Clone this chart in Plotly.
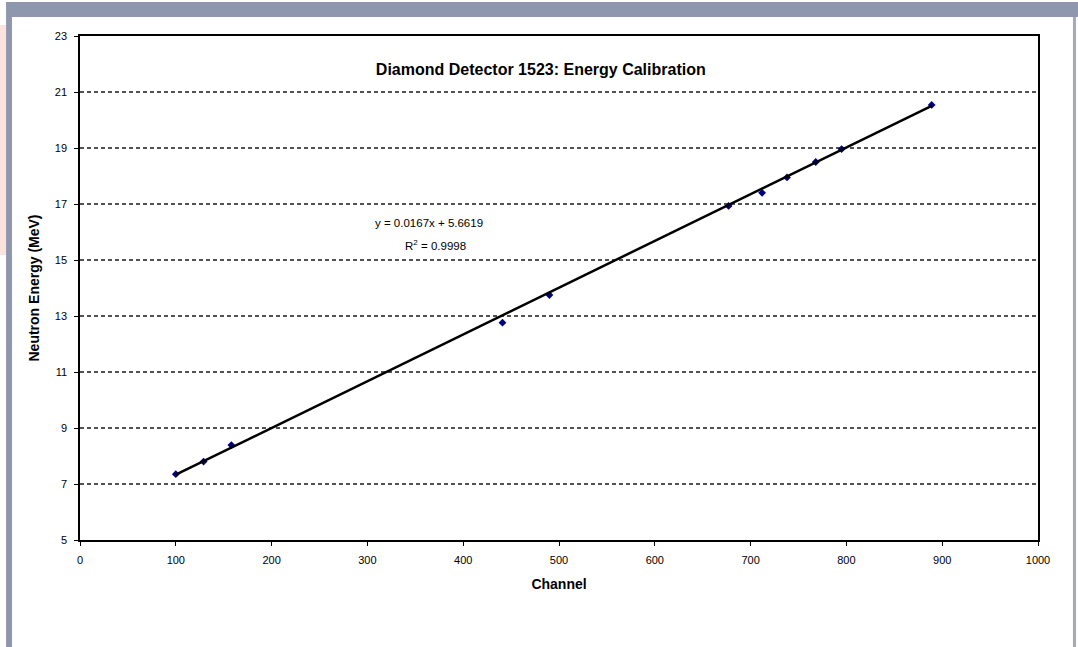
import plotly.graph_objects as go

# Calibration points: pulse-height channel vs. neutron energy (MeV)
channel = [100, 129, 158, 441, 490, 677, 712, 738, 768, 795, 889]
energy = [7.35, 7.80, 8.39, 12.76, 13.75, 16.93, 17.40, 17.95, 18.50, 18.96, 20.54]

# Linear fit reported on the chart
slope = 0.0167
intercept = 5.6619
r_squared = 0.9998

x_ticks = list(range(0, 1001, 100))
y_ticks = list(range(5, 24, 2))

fit_x = [min(channel), max(channel)]
fit_y = [slope * v + intercept for v in fit_x]

fig = go.Figure()

fig.add_trace(go.Scatter(
    x=channel, y=energy, mode="markers",
    marker=dict(symbol="diamond", size=6, color="#000080"),
    showlegend=False, hoverinfo="x+y",
))
fig.add_trace(go.Scatter(
    x=fit_x, y=fit_y, mode="lines",
    line=dict(color="black", width=2.5),
    showlegend=False, hoverinfo="skip",
))

font_family = "Liberation Sans, Arial, sans-serif"

# Dashed horizontal gridlines
for v in y_ticks[1:-1]:
    fig.add_shape(type="line", xref="paper", x0=0, x1=1, yref="y", y0=v, y1=v,
                  line=dict(color="#1a1a1a", width=1.3, dash="4px,3px"), layer="below")

# Window frame decoration around the chart
frame = "#8e97ae"
fig.add_shape(type="rect", xref="paper", yref="paper",
              x0=-0.0772, x1=1.0418, y0=1.0377, y1=1.0675,
              fillcolor=frame, line_width=0, layer="below")
fig.add_shape(type="rect", xref="paper", yref="paper",
              x0=-0.0772, x1=-0.0710, y0=-0.2123, y1=1.0377,
              fillcolor=frame, line_width=0, layer="below")
fig.add_shape(type="rect", xref="paper", yref="paper",
              x0=1.0365, x1=1.0397, y0=-0.2123, y1=1.0377,
              fillcolor="#a3aabd", line_width=0, layer="below")
fig.add_shape(type="rect", xref="paper", yref="paper",
              x0=-0.0835, x1=-0.0772, y0=0.5655, y1=1.0218,
              fillcolor="#fbe2dc", line_width=0, layer="below")

fig.add_annotation(x=364, y=16.32, xref="x", yref="y",
                   text=f"y = {slope}x + {intercept}", showarrow=False,
                   font=dict(family=font_family, size=11.5, color="black"))
fig.add_annotation(x=370.6, y=15.54, xref="x", yref="y",
                   text=f"R<sup>2</sup> = {r_squared}", showarrow=False,
                   font=dict(family=font_family, size=11.5, color="black"))

fig.update_layout(
    width=1078, height=647,
    margin=dict(l=80, r=40, t=36, b=107),
    paper_bgcolor="white", plot_bgcolor="white",
    font=dict(family=font_family, size=11, color="black"),
    title=dict(text="<b>Diamond Detector 1523: Energy Calibration</b>",
               xref="paper", x=0.481, xanchor="center",
               yref="container", y=1 - 69 / 647, yanchor="middle",
               font=dict(family=font_family, size=16, color="black")),
    xaxis=dict(range=[0, 1000], tickvals=x_ticks, showgrid=False, zeroline=False,
               showline=True, linecolor="black", linewidth=1.5, mirror=True,
               ticks="outside", ticklen=4, tickcolor="black", ticklabelstandoff=5,
               title=dict(text="<b>Channel</b>", standoff=14,
                          font=dict(family=font_family, size=14))),
    yaxis=dict(range=[5, 23], tickvals=y_ticks, showgrid=False, zeroline=False,
               showline=True, linecolor="black", linewidth=1.5, mirror=True,
               ticks="outside", ticklen=4, tickcolor="black", ticklabelstandoff=5,
               title=dict(text="<b>Neutron Energy (MeV)</b>", standoff=12,
                          font=dict(family=font_family, size=14))),
)

fig.write_html("out.html")
